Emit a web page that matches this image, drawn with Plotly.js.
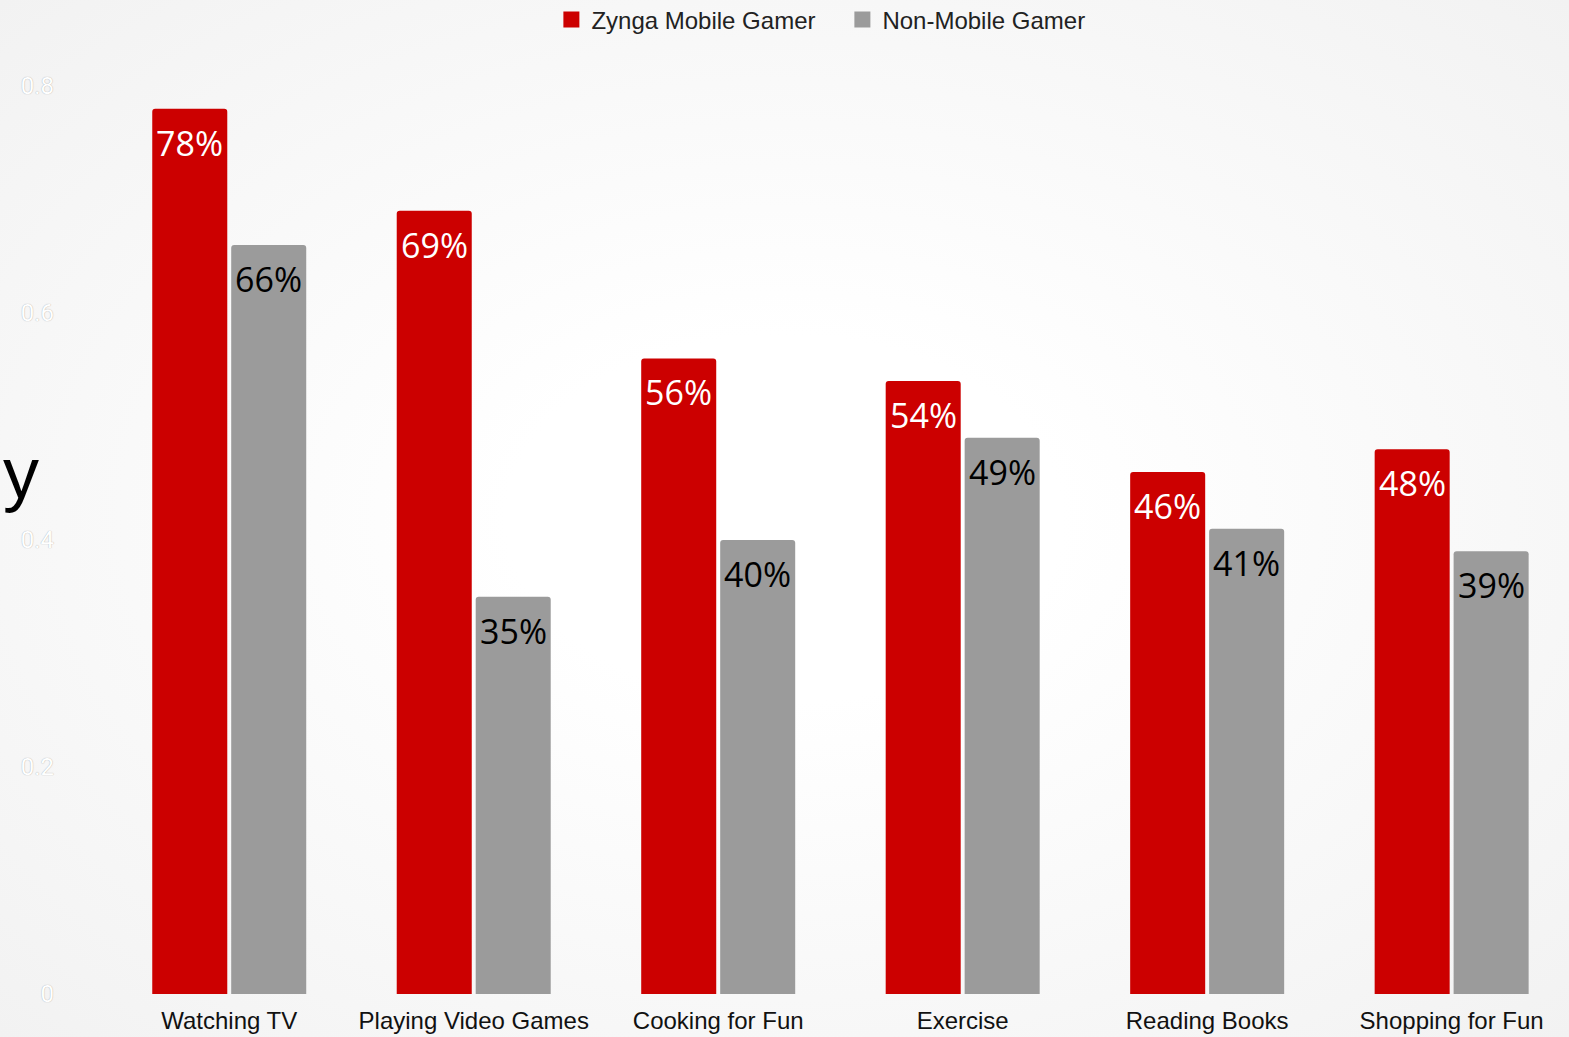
<!DOCTYPE html>
<html>
<head>
<meta charset="utf-8">
<script src="https://cdn.plot.ly/plotly-3.0.1.min.js"></script>
<style>
html, body { margin: 0; padding: 0; width: 1569px; height: 1037px; overflow: hidden;
  background: radial-gradient(ellipse at 50% 50%, #ffffff 0%, #ffffff 25%, #f2f2f2 100%); }
#chart { width: 1569px; height: 1037px; }
</style>
</head>
<body>
<div id="chart"></div>
<script>
const categories = ["Watching TV", "Playing Video Games", "Cooking for Fun", "Exercise", "Reading Books", "Shopping for Fun"];
const zyngaMobile = [0.78, 0.69, 0.56, 0.54, 0.46, 0.48];
const nonMobile = [0.66, 0.35, 0.40, 0.49, 0.41, 0.39];
const seriesNames = ["Zynga Mobile Gamer", "Non-Mobile Gamer"];
const seriesColors = ["#cc0000", "#9b9b9b"];
const labelColors = ["#ffffff", "#000000"];
const yTicks = [0, 0.2, 0.4, 0.6, 0.8];
const yTickText = ["0", "0.2", "0.4", "0.6", "0.8"];

const pct = v => Math.round(v * 100) + "%";
const seriesValues = [zyngaMobile, nonMobile];

const traces = [];
seriesValues.forEach((vals, i) => {
  traces.push({
    type: "bar", name: seriesNames[i], x: categories, y: vals,
    marker: { color: seriesColors[i], cornerradius: 3 },
    showlegend: false, hoverinfo: "x+y"
  });
});
// legend entries
seriesNames.forEach((n, i) => {
  traces.push({
    type: "scatter", mode: "markers", name: n, x: [null], y: [null],
    marker: { symbol: "square", size: 16, color: seriesColors[i] },
    showlegend: true, hoverinfo: "skip"
  });
});

// value labels placed at each bar top through the axes
const labelAnnotations = [];
seriesValues.forEach((vals, i) => {
  vals.forEach((v, j) => {
    labelAnnotations.push({
      x: categories[j], y: v, xref: "x", yref: "y",
      text: pct(v), showarrow: false,
      xanchor: "center", yanchor: "top",
      xshift: i === 0 ? -39.5 : 39.5, yshift: -9,
      font: { family: "Open Sans, Noto Sans, sans-serif", size: 34, color: labelColors[i] }
    });
  });
});

const layout = {
  width: 1569, height: 1037,
  paper_bgcolor: "rgba(0,0,0,0)", plot_bgcolor: "rgba(0,0,0,0)",
  margin: { l: 107, r: 0, t: 50, b: 43, pad: 0, autoexpand: false },
  barmode: "group", bargap: 0.354, bargroupgap: 0.05,
  showlegend: true,
  legend: {
    orientation: "h", x: 0.503, xanchor: "center", y: 1.032, yanchor: "middle",
    font: { family: "Liberation Sans, Arial, sans-serif", size: 24, color: "#222222" },
    bgcolor: "rgba(0,0,0,0)", traceorder: "normal", itemsizing: "trace",
    entrywidth: 246
  },
  xaxis: {
    type: "category", range: [-0.5, 5.48], fixedrange: true,
    showgrid: false, zeroline: false, showline: false, ticks: "",
    tickfont: { family: "Liberation Sans, Arial, sans-serif", size: 24, color: "#111111" },
    ticklabelstandoff: 10
  },
  yaxis: {
    range: [0, 0.8317], fixedrange: true,
    tickvals: yTicks, ticktext: yTickText,
    showgrid: false, zeroline: false, showline: false, ticks: "",
    tickfont: { family: "Roboto, Liberation Sans, sans-serif", size: 24, color: "#ffffff",
      shadow: "0px 0px 1px #999999" },
    ticklabelstandoff: 52
  },
  annotations: labelAnnotations.concat([
    { text: "y", xref: "paper", yref: "paper", x: -0.0725, y: 0.552,
      xanchor: "left", yanchor: "middle", showarrow: false,
      font: { family: "Liberation Sans, Arial, sans-serif", size: 72, color: "#000000" } }
  ])
};

Plotly.newPlot("chart", traces, layout, { displayModeBar: false, staticPlot: true });
</script>
</body>
</html>
